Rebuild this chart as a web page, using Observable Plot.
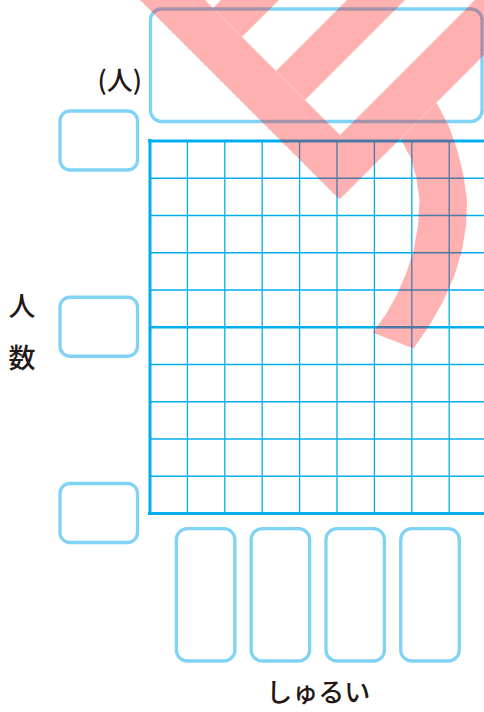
<!DOCTYPE html>
<html>
<head>
<meta charset="utf-8">
<script src="https://cdn.jsdelivr.net/npm/d3@7"></script>
<script src="https://cdn.jsdelivr.net/npm/@observablehq/plot@0.6"></script>
<style>
  html, body { margin: 0; padding: 0; background: #fff; overflow: hidden; }
  #chart svg { overflow: hidden; }
</style>
</head>
<body>
<div id="chart"></div>
<script>
// ---------- data ----------
const categories = ["", "", "", ""];          // blank category labels (to be filled in)
const yTicks = [0, 5, 10];                     // tick values on the 人数 axis
const yTickLabels = ["", "", ""];              // blank tick labels (to be filled in)
const yUnit = "(人)";
const yLabel = "人\n数";
const xLabel = "しゅるい";
const titleText = "";                          // blank title box
const yDomain = [0, 10];
const columns = 9;                              // grid columns

// ---------- layout (pixels) ----------
const W = 484, H = 712;
const X0 = 149.5, CELL = 37.4;   // grid left edge, column width
const Y0 = 513, ROW = 37.25;      // grid bottom edge, row height
const px2x = px => (px - X0) / CELL;
const px2y = py => (Y0 - py) / ROW;

const GRID = "#00aeef";
const BOX = "#80d3f5";
const INK = "#231815";
const STAMP = "#ff0000";
const FONT = "'Noto Sans CJK JP', 'Noto Sans', sans-serif";

// tick label boxes
const tickBoxes = yTicks.map((v, i) => ({
  label: yTickLabels[i],
  x1: px2x(60), x2: px2x(137.5),
  y1: v - 29.5 / ROW, y2: v + 29.5 / ROW
}));
// category label boxes (each category spans two columns)
const catBoxes = categories.map((c, i) => {
  const cx = 1.5 + 2 * i;
  return {label: c, cx, x1: cx - 29.25 / CELL, x2: cx + 29.25 / CELL, y1: px2y(661), y2: px2y(528.7)};
});
const titleBox = [{label: titleText, x1: px2x(150.5), x2: px2x(482), y1: px2y(121.5), y2: px2y(9)}];

// sample stamp watermark (decoration), outlined in pixels
const uv = (u, v) => [(u + v) / 2, (u - v) / 2];
const stampShapes = [
  [uv(100,140), uv(538,140), uv(538,700), uv(474,700), uv(474,205), uv(100,205)],
  [uv(220,205), uv(278,205), uv(278,330), uv(220,330)],
  [uv(346,205), uv(404,205), uv(404,450), uv(346,450)],
  [[436,102],[448,125],[457,150],[463,175],[466.5,200],[465.5,225],[461.5,250],[454,275],[443,300],[429,325],[413,348],
   [372,332],[386,313],[397,293],[406,272],[413,250],[417.5,225],[419,200],[416,178],[410,157],[400,138]]
];
const stampPts = stampShapes.flatMap((poly, k) => poly.map(([px, py]) => ({k, x: px2x(px), y: px2y(py)})));

const innerRows = d3.range(yDomain[0] + 1, yDomain[1]).filter(v => v !== 5);

const plot = Plot.plot({
  width: W, height: H,
  margin: 0,
  x: {domain: [0, columns], range: [X0, X0 + columns * CELL], axis: null},
  y: {domain: yDomain, range: [Y0, Y0 - 10 * ROW], axis: null},
  style: {fontFamily: FONT, background: "#fff", color: INK},
  marks: [
    // grid
    Plot.ruleY(innerRows, {x1: 0, x2: columns, stroke: GRID, strokeWidth: 1.3}),
    Plot.ruleX(d3.range(1, columns), {y1: yDomain[0], y2: yDomain[1], stroke: GRID, strokeWidth: 1.3}),
    Plot.ruleY([5], {x1: 0, x2: columns, stroke: GRID, strokeWidth: 2.6}),
    Plot.ruleY(yDomain, {x1: 0, x2: columns, stroke: GRID, strokeWidth: 3, strokeLinecap: "square"}),
    Plot.ruleX([0], {y1: yDomain[0], y2: yDomain[1], stroke: GRID, strokeWidth: 3, strokeLinecap: "square"}),
    // boxes
    Plot.rect(titleBox, {x1: "x1", x2: "x2", y1: "y1", y2: "y2", fill: "none", stroke: BOX, strokeWidth: 3.3, rx: 11}),
    Plot.rect(tickBoxes, {x1: "x1", x2: "x2", y1: "y1", y2: "y2", fill: "none", stroke: BOX, strokeWidth: 3.3, rx: 10}),
    Plot.rect(catBoxes, {x1: "x1", x2: "x2", y1: "y1", y2: "y2", fill: "none", stroke: BOX, strokeWidth: 3.3, rx: 11}),
    // texts
    Plot.text([yUnit], {x: 0, y: yDomain[1], text: d => d, textAnchor: "end", dx: -8, dy: -59, fontSize: 26, fontWeight: 500, fill: INK}),
    Plot.text([yLabel], {frameAnchor: "left", y: 5, text: d => d, textAnchor: "middle", dx: 21.5, dy: -2, lineHeight: 1.95, fontSize: 27, fontWeight: 500, fill: INK}),
    Plot.text([xLabel], {x: columns / 2, frameAnchor: "bottom", text: d => d, textAnchor: "middle", dy: -11, fontSize: 26, fontWeight: 500, fill: INK}),
    // sample stamp overlay
    Plot.line(stampPts, {x: "x", y: "y", z: "k", curve: "linear-closed", fill: STAMP, stroke: "none"})
  ]
});
const stamp = plot.querySelector(`g[fill="${STAMP}"]`);
if (stamp) stamp.setAttribute("opacity", 0.3);
document.getElementById("chart").appendChild(plot);
</script>
</body>
</html>
